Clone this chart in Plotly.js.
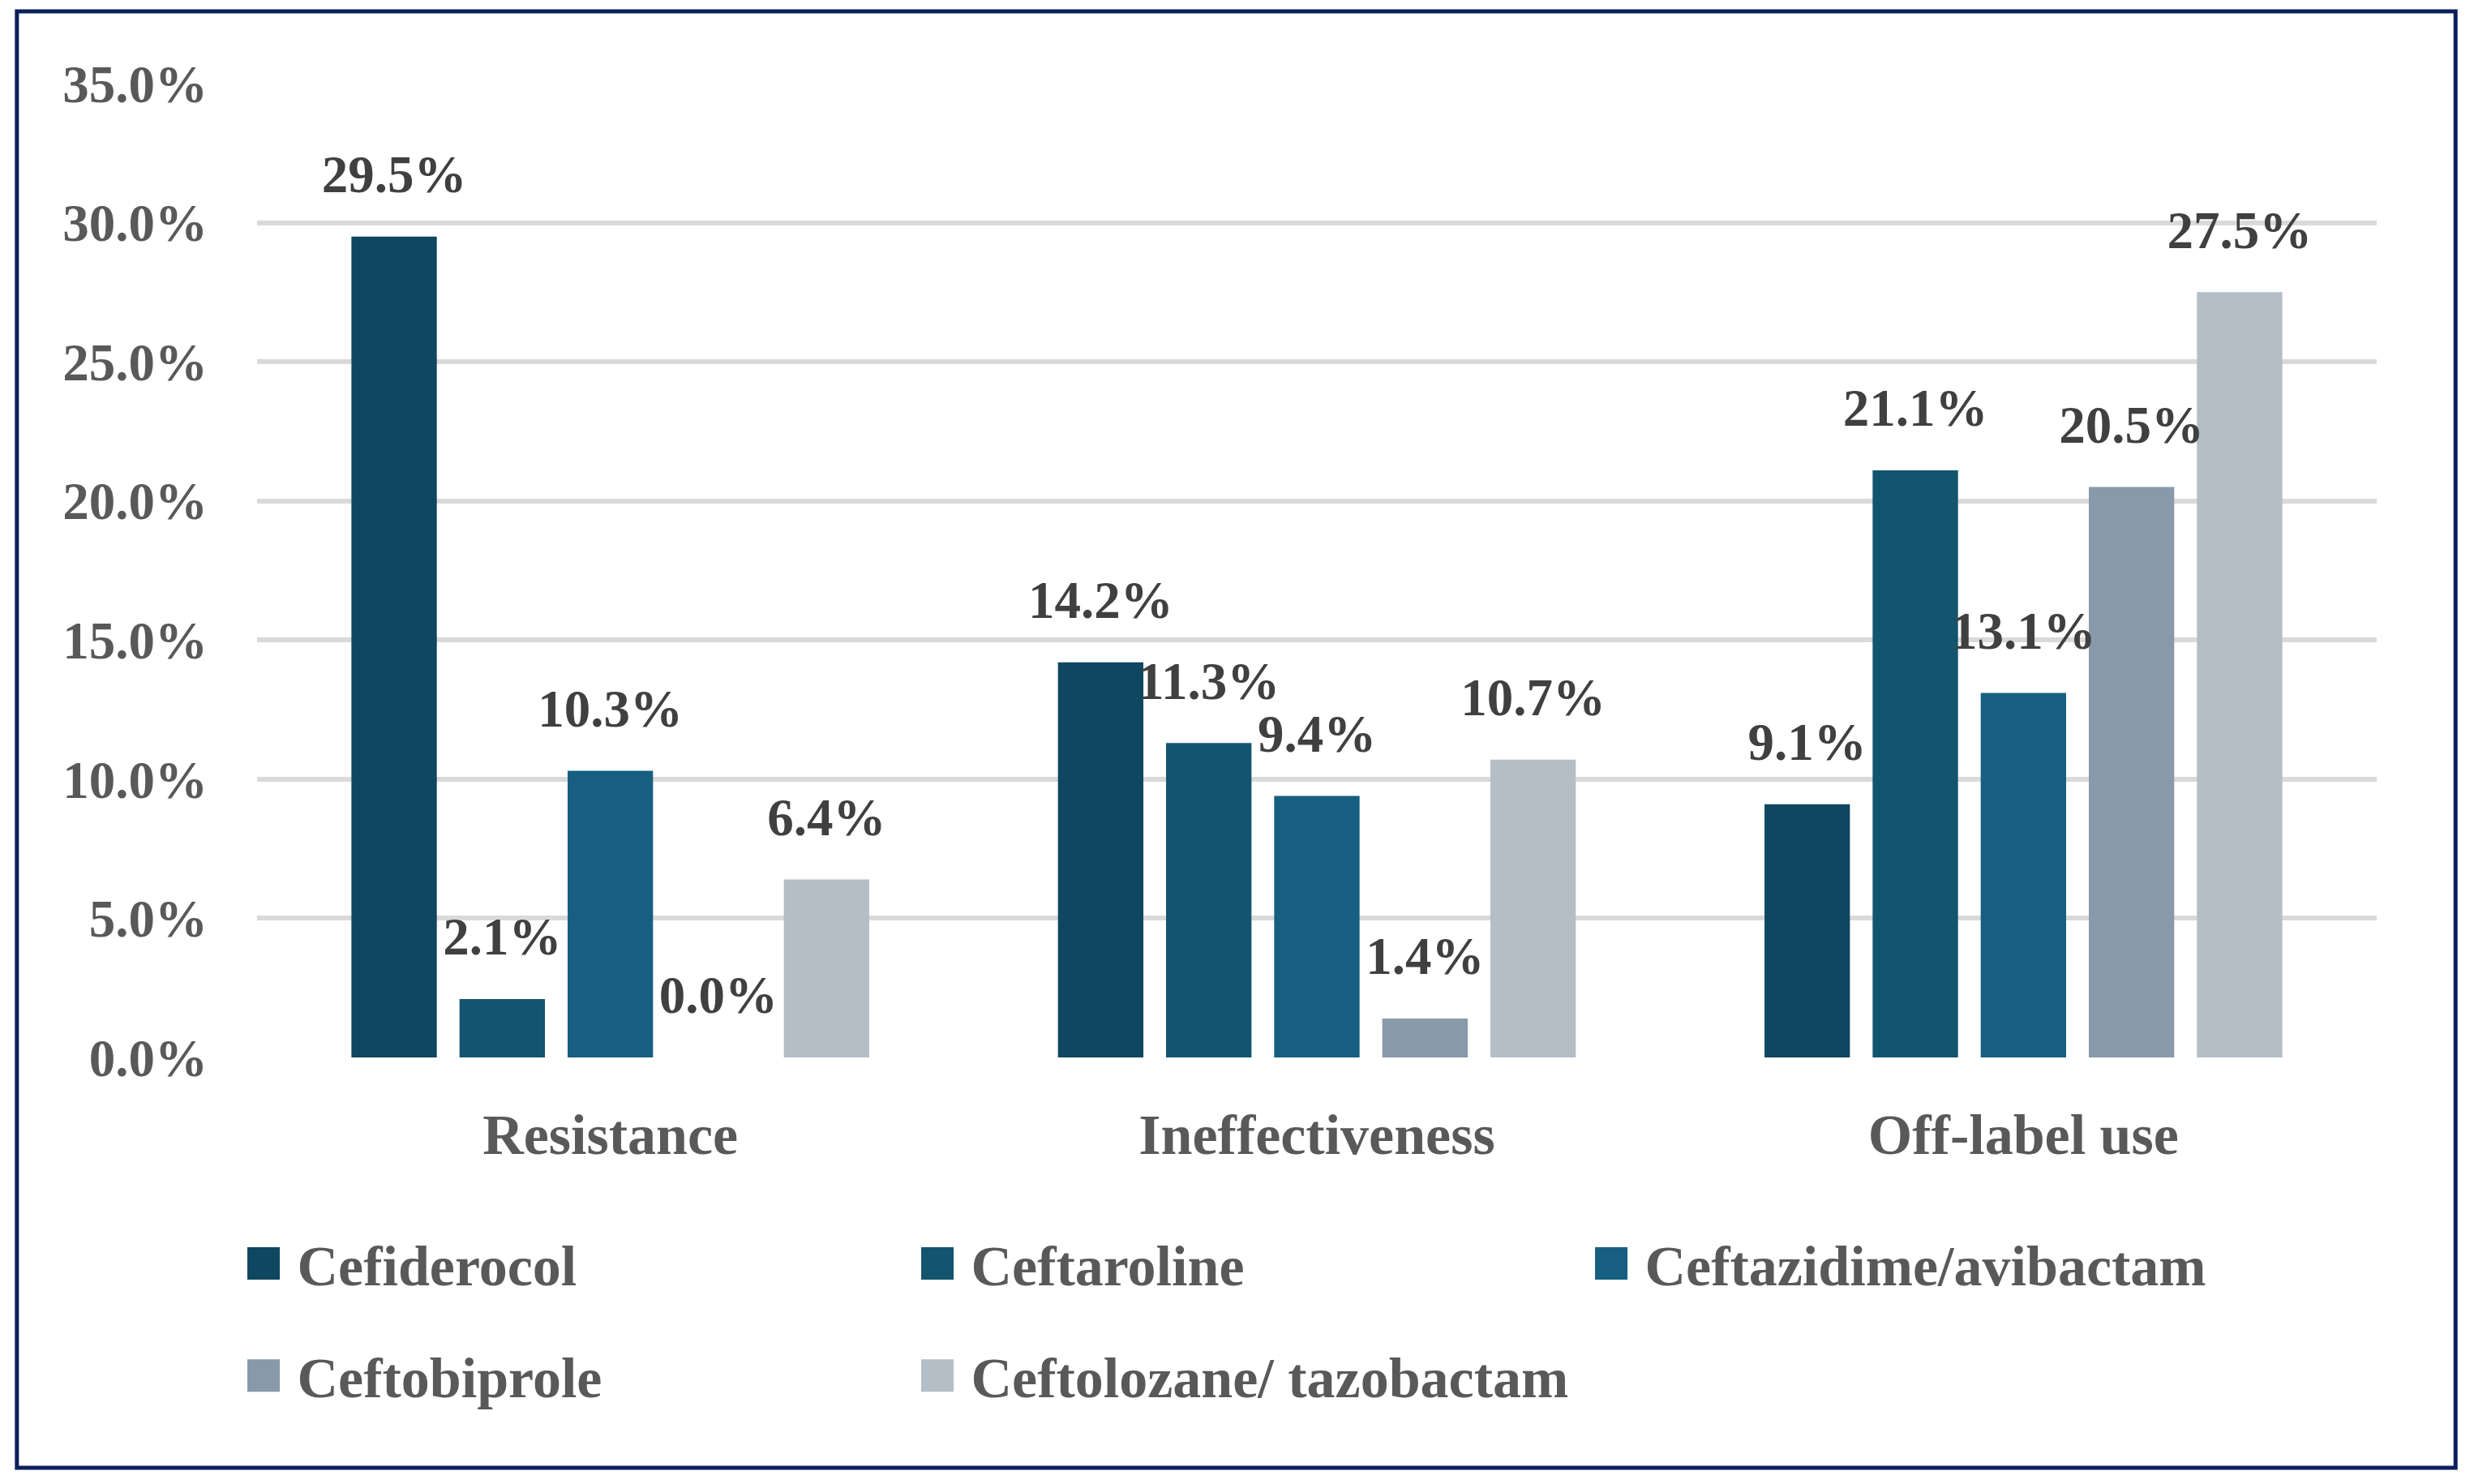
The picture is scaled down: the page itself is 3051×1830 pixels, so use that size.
<!DOCTYPE html>
<html>
<head>
<meta charset="utf-8">
<script src="https://cdn.plot.ly/plotly-3.0.1.min.js"></script>
<style>
  html, body { margin: 0; padding: 0; background: #ffffff; }
  #chart { width: 3051px; height: 1830px; }
</style>
</head>
<body>
<div id="chart"></div>
<script>
// ---- data ----
const categories = ["Resistance", "Ineffectiveness", "Off-label use"];
const seriesNames = ["Cefiderocol", "Ceftaroline", "Ceftazidime/avibactam", "Ceftobiprole", "Ceftolozane/ tazobactam"];
const cefiderocol = [29.5, 14.2, 9.1];
const ceftaroline = [2.1, 11.3, 21.1];
const ceftazidimeAvibactam = [10.3, 9.4, 13.1];
const ceftobiprole = [0.0, 1.4, 20.5];
const ceftolozaneTazobactam = [6.4, 10.7, 27.5];
const seriesValues = [cefiderocol, ceftaroline, ceftazidimeAvibactam, ceftobiprole, ceftolozaneTazobactam];
const seriesColors = ["#0f4660", "#13546f", "#175f80", "#8899aa", "#b4bec7"];
const legendOf = ["legend", "legend", "legend", "legend2", "legend2"];
const yTicks = [0, 5, 10, 15, 20, 25, 30, 35];

const FONT = "Liberation Serif, Times New Roman, serif";
const BARGAP = 0.235;

const traces = [];
seriesNames.forEach((name, i) => {
  traces.push({
    type: "bar",
    name: name,
    x: categories,
    y: seriesValues[i],
    offsetgroup: "g" + i,
    marker: { color: seriesColors[i] },
    legend: legendOf[i],
    hoverinfo: "skip"
  });
});
// value labels placed over each bar via grouped scatter text
seriesNames.forEach((name, i) => {
  traces.push({
    type: "scatter",
    mode: "markers+text",
    x: categories,
    y: seriesValues[i],
    offsetgroup: "g" + i,
    text: seriesValues[i].map(v => v.toFixed(1) + "%"),
    textposition: "top center",
    textfont: { family: FONT, size: 65, color: "#404040", weight: "bold" },
    marker: { size: 60, opacity: 0, color: seriesColors[i] },
    showlegend: false,
    cliponaxis: false,
    hoverinfo: "skip"
  });
});

const legendBase = {
  orientation: "h",
  x: -0.0128, xanchor: "left",
  yanchor: "middle",
  entrywidth: 743, entrywidthmode: "pixels",
  itemwidth: 73,
  font: { family: FONT, size: 70, color: "#595959", weight: "bold" },
  bgcolor: "rgba(0,0,0,0)"
};

const layout = {
  width: 3051,
  height: 1830,
  paper_bgcolor: "#ffffff",
  plot_bgcolor: "#ffffff",
  margin: { l: 317, r: 120, t: 103, b: 526 },
  barmode: "group",
  bargap: BARGAP,
  bargroupgap: 0.21,
  scattermode: "group",
  scattergap: BARGAP,
  showlegend: true,
  hovermode: false,
  xaxis: {
    type: "category",
    showgrid: false,
    showline: false,
    zeroline: false,
    ticks: "",
    ticklabelstandoff: 48,
    tickfont: { family: FONT, size: 70, color: "#595959", weight: "bold" }
  },
  yaxis: {
    range: [0, 35],
    tickvals: yTicks,
    ticktext: yTicks.map(v => v.toFixed(1) + "%"),
    showgrid: true,
    gridcolor: "#d9d9d9",
    gridwidth: 6,
    zeroline: false,
    showline: false,
    ticks: "",
    ticklabelstandoff: 60,
    tickfont: { family: FONT, size: 65, color: "#595959", weight: "bold" }
  },
  legend: Object.assign({}, legendBase, { y: -0.2115 }),
  legend2: Object.assign({}, legendBase, { y: -0.3265 }),
  shapes: [{
    type: "rect", xref: "paper", yref: "paper",
    x0: -0.1133, x1: 1.0372, y0: -0.4213, y1: 1.0741,
    line: { color: "#0b1f5c", width: 5 },
    fillcolor: "rgba(0,0,0,0)",
    layer: "above"
  }]
};

const gd = document.getElementById("chart");
function enlargeSwatches() {
  gd.querySelectorAll("g.legendpoints path").forEach(p => {
    p.setAttribute("d", "M20,20H-20V-20H20Z");
  });
}
Plotly.newPlot(gd, traces, layout, { displayModeBar: false, staticPlot: true }).then(() => {
  enlargeSwatches();
  gd.on("plotly_afterplot", enlargeSwatches);
});
</script>
</body>
</html>
